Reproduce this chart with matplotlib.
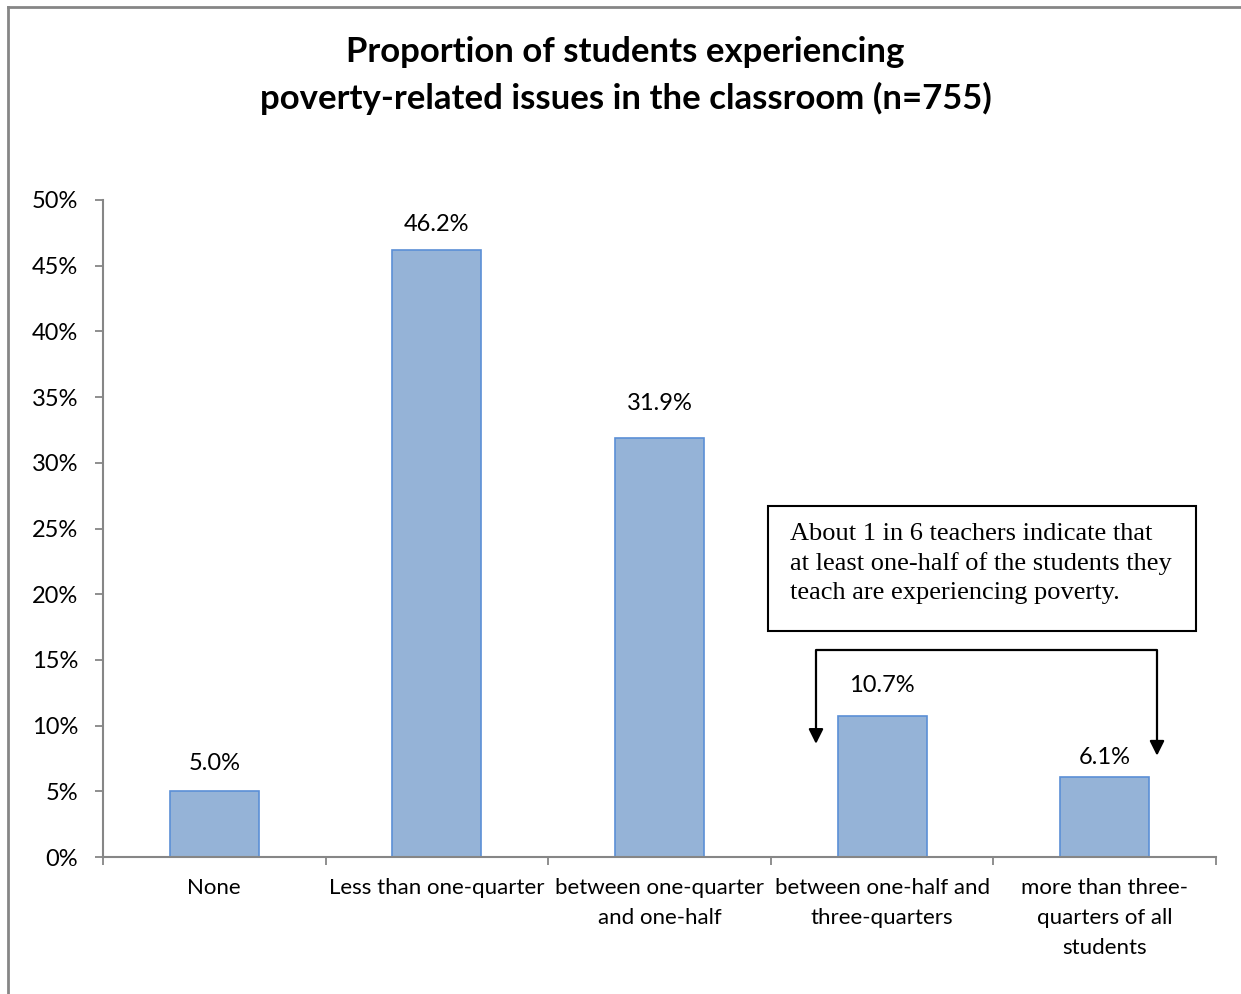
# Proportion of students experiencing poverty-related issues
#
import numpy as np
import matplotlib.pyplot as plt
from matplotlib.patches import Rectangle
from matplotlib.lines import Line2D
from matplotlib.ticker import FixedLocator

# Data
categories = ['None', 'Less than one-quarter', 'between one-quarter\nand one-half',
              'between one-half and\nthree-quarters', 'more than three-\nquarters of all\nstudents']
values = [5.0, 46.2, 31.9, 10.7, 6.1]
yticks = [0, 5, 10, 15, 20, 25, 30, 35, 40, 45, 50]

plt.rcParams['font.family'] = ['Lato', 'DejaVu Sans']
grey = '#868686'

fig = plt.figure(figsize=(12.41, 9.94), dpi=100)
ax = fig.add_axes([103/1241, 137/994, 1113/1241, 657/994])

x = np.arange(len(values))
ax.bar(x, values, width=0.4, color='#95B3D7', edgecolor='#5B8FD6', linewidth=1.2, zorder=2)
# label offsets (points) as placed in the original
offs = [20, 18, 24.5, 22.3, 13.7]
for xi, v, o in zip(x, values, offs):
    ax.annotate('%.1f%%' % v, (xi, v), xytext=(0, o), textcoords='offset points',
                ha='center', va='center', fontsize=17)

ax.set_xlim(-0.5, len(values) - 0.5)
ax.set_ylim(0, 50)
ax.set_yticks(yticks)
ax.set_yticklabels(['%d%%' % t for t in yticks], fontsize=17)
ax.set_xticks(x)
ax.set_xticklabels(categories, fontsize=16, linespacing=1.62, va='top')
ax.xaxis.set_minor_locator(FixedLocator(np.arange(-0.5, len(values), 1.0)))
ax.tick_params(axis='x', which='major', length=0, pad=15)
ax.tick_params(axis='x', which='minor', length=6, width=1.3, color=grey, direction='out')
ax.tick_params(axis='y', length=6, width=1.3, color=grey, direction='out', pad=12)
for s in ['top', 'right']:
    ax.spines[s].set_visible(False)
for s in ['left', 'bottom']:
    ax.spines[s].set_color(grey)
    ax.spines[s].set_linewidth(1.5)

# Callout box and arrows
ax.add_patch(Rectangle((2.487, 17.2), 4.41 - 2.487, 26.71 - 17.2, fill=False,
                       edgecolor='black', linewidth=1.5, clip_on=False, zorder=3))
ax.text(2.586, 25.45, 'About 1 in 6 teachers indicate that\nat least one-half of the students they\n'
        'teach are experiencing poverty.', family='Liberation Serif', fontsize=19,
        ha='left', va='top', linespacing=1.42)
ax.plot([2.703, 2.703, 4.235, 4.235], [9.6, 15.75, 15.75, 8.7], color='black', lw=1.6,
        clip_on=False)
ax.annotate('', xy=(2.703, 8.4), xytext=(2.703, 9.8),
            arrowprops=dict(arrowstyle='-|>', color='black', lw=1.6, mutation_scale=22))
ax.annotate('', xy=(4.235, 7.5), xytext=(4.235, 8.9),
            arrowprops=dict(arrowstyle='-|>', color='black', lw=1.6, mutation_scale=22))

# Title
fig.text(0.504, 0.964, 'Proportion of students experiencing\npoverty-related issues in the classroom (n=755)',
         ha='center', va='top', fontsize=25, fontweight='bold', linespacing=1.52)

# Outer frame (cropped chart area)
fig.add_artist(Line2D([8/1241, 1], [1 - 7/994, 1 - 7/994], color=grey, lw=2))
fig.add_artist(Line2D([8/1241, 8/1241], [0, 1 - 7/994], color=grey, lw=2))

plt.savefig('out.png', dpi=100)
